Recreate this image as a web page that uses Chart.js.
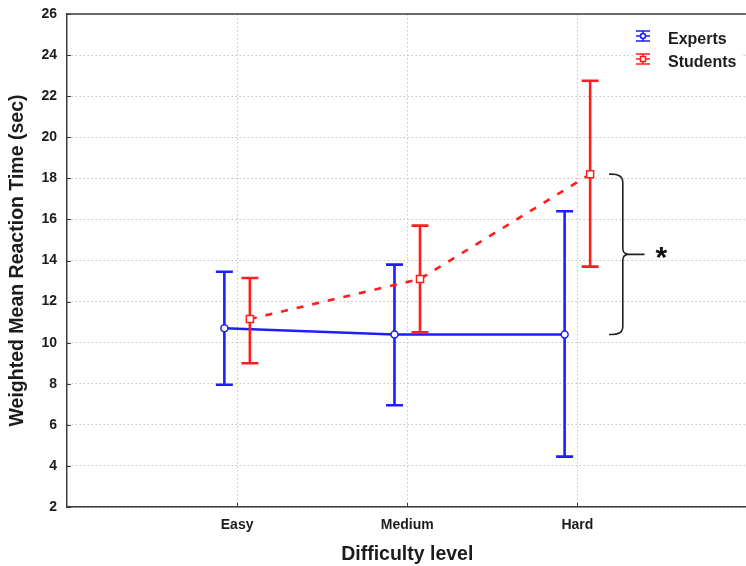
<!DOCTYPE html>
<html>
<head>
<title>Reaction time by difficulty</title>
<script src="https://cdn.jsdelivr.net/npm/chart.js"></script>
<style>
  html, body { margin: 0; padding: 0; background: #fff; overflow: hidden; }
  #wrap { width: 754px; height: 566px; }
</style>
</head>
<body>
<div id="wrap"><canvas id="rt"></canvas></div>
<script>
// weighted mean reaction time (sec) with interval ends
const levels = ['Easy', 'Medium', 'Hard'];
const expertsMean = [10.7, 10.4, 10.4];
const expertsLow  = [7.95, 6.95, 4.45];
const expertsHigh = [13.45, 13.8, 16.4];
const studentsMean = [11.15, 13.1, 18.2];
const studentsLow  = [9.0, 10.5, 13.7];
const studentsHigh = [13.15, 15.7, 22.75];
const yTicks = [2, 4, 6, 8, 10, 12, 14, 16, 18, 20, 22, 24, 26];

const FONT = "'Liberation Sans', Arial, sans-serif";
const BLUE = '#1e1eff';
const RED = '#ff1e1e';
const INK = '#1c1c1c';
const SHIFT = 0.075;   // horizontal offset of the two groups

function pts(mean, dx) {
  return mean.map((v, i) => ({ x: i + 1 + dx, y: v }));
}

const errorBars = {
  id: 'errorBars',
  beforeDatasetDraw(chart, args) {
    const ds = chart.data.datasets[args.index];
    const xs = chart.scales.x, ys = chart.scales.y;
    const ctx = chart.ctx;
    ctx.save();
    ctx.strokeStyle = ds.borderColor;
    ctx.lineWidth = 2.6;
    ds.low.forEach((lo, i) => {
      const px = xs.getPixelForValue(ds.data[i].x);
      const yl = ys.getPixelForValue(lo);
      const yh = ys.getPixelForValue(ds.high[i]);
      ctx.beginPath();
      ctx.moveTo(px, yh); ctx.lineTo(px, yl);
      ctx.moveTo(px - 8.5, yh); ctx.lineTo(px + 8.5, yh);
      ctx.moveTo(px - 8.5, yl); ctx.lineTo(px + 8.5, yl);
      ctx.stroke();
    });
    ctx.restore();
  }
};

const frame = {
  id: 'frame',
  beforeDatasetsDraw(chart) {
    const { ctx, chartArea: a, scales } = chart;
    ctx.save();
    ctx.strokeStyle = '#3c3c3c';
    ctx.lineWidth = 1.5;
    ctx.beginPath();
    ctx.moveTo(a.left, a.top); ctx.lineTo(a.right, a.top);
    ctx.stroke();
    ctx.lineWidth = 1;
    ctx.beginPath();
    scales.y.ticks.forEach(t => {
      const y = Math.round(scales.y.getPixelForValue(t.value)) + 0.5;
      ctx.moveTo(a.left, y); ctx.lineTo(a.left + 4, y);
    });
    scales.x.ticks.forEach(t => {
      const x = Math.round(scales.x.getPixelForValue(t.value)) + 0.5;
      ctx.moveTo(x, a.bottom); ctx.lineTo(x, a.bottom - 4);
    });
    ctx.stroke();
    ctx.restore();
  },
  afterDraw(chart) {
    const { ctx, scales } = chart;
    const xs = scales.x, ys = scales.y;
    ctx.save();

    // legend, top right
    const items = [['Experts', BLUE, 'circle'], ['Students', RED, 'rect']];
    items.forEach(([label, color, shape], k) => {
      const cy = 36 + k * 23;
      const cx = 643;
      ctx.fillStyle = '#fff';
      ctx.fillRect(cx - 10, cy - 9, 110, 18);
      ctx.strokeStyle = color;
      ctx.lineWidth = 1.6;
      ctx.beginPath();
      ctx.moveTo(cx - 7, cy - 5); ctx.lineTo(cx + 7, cy - 5);
      ctx.moveTo(cx - 7, cy + 5); ctx.lineTo(cx + 7, cy + 5);
      ctx.moveTo(cx, cy - 5); ctx.lineTo(cx, cy + 5);
      ctx.moveTo(cx - 7, cy); ctx.lineTo(cx + 7, cy);
      ctx.stroke();
      ctx.fillStyle = '#fff';
      ctx.beginPath();
      if (shape === 'circle') ctx.arc(cx, cy, 2.5, 0, Math.PI * 2);
      else ctx.rect(cx - 2.5, cy - 2.5, 5, 5);
      ctx.fill(); ctx.stroke();
      ctx.fillStyle = INK;
      ctx.font = "bold 16px " + FONT;
      ctx.textBaseline = 'middle';
      ctx.textAlign = 'left';
      ctx.fillText(label, 668, cy + 4);
    });

    // bracket joining the two Hard means
    const yTop = ys.getPixelForValue(studentsMean[2]);
    const yBot = ys.getPixelForValue(expertsMean[2]);
    const yMid = (yTop + yBot) / 2;
    const x0 = xs.getPixelForValue(3.186);
    const x1 = xs.getPixelForValue(3.267);
    const x2 = xs.getPixelForValue(3.395);
    ctx.strokeStyle = '#222';
    ctx.lineWidth = 1.6;
    ctx.beginPath();
    ctx.moveTo(x0, yTop);
    ctx.quadraticCurveTo(x1, yTop - 1, x1, yTop + 8);
    ctx.lineTo(x1, yMid - 6);
    ctx.quadraticCurveTo(x1, yMid, x1 + 6, yMid);
    ctx.quadraticCurveTo(x1, yMid, x1, yMid + 6);
    ctx.lineTo(x1, yBot - 8);
    ctx.quadraticCurveTo(x1, yBot + 1, x0, yBot);
    ctx.moveTo(x1 + 4, yMid); ctx.lineTo(x2, yMid);
    ctx.stroke();

    ctx.fillStyle = '#111';
    ctx.font = "bold 30px " + FONT;
    ctx.textAlign = 'center';
    ctx.textBaseline = 'alphabetic';
    ctx.fillText('*', xs.getPixelForValue(3.494), yMid + 13);
    ctx.restore();
  }
};

new Chart(document.getElementById('rt'), {
  type: 'line',
  data: {
    datasets: [
      {
        label: 'Experts',
        data: pts(expertsMean, -SHIFT),
        low: expertsLow, high: expertsHigh,
        borderColor: BLUE,
        borderWidth: 2.6,
        tension: 0,
        pointStyle: 'circle',
        pointRadius: 3.5,
        pointBorderWidth: 1.5,
        pointBackgroundColor: '#fff',
        pointBorderColor: BLUE,
        order: 2
      },
      {
        label: 'Students',
        data: pts(studentsMean, SHIFT),
        low: studentsLow, high: studentsHigh,
        borderColor: RED,
        borderWidth: 2.6,
        borderDash: [7, 9],
        tension: 0,
        pointStyle: 'rect',
        pointRadius: 5,
        pointBorderWidth: 1.5,
        pointBackgroundColor: '#fff',
        pointBorderColor: RED,
        order: 1
      }
    ]
  },
  options: {
    responsive: true,
    maintainAspectRatio: false,
    animation: false,
    layout: { padding: { top: 14, right: 0, left: 0, bottom: 0 } },
    plugins: { legend: { display: false }, tooltip: { enabled: false } },
    scales: {
      x: {
        type: 'linear',
        min: 0, max: 4,
        afterBuildTicks: s => { s.ticks = levels.map((_, i) => ({ value: i + 1 })); },
        afterFit: s => { s.height = 59; s.paddingLeft = 0; s.paddingRight = 0; },
        ticks: {
          callback: v => levels[v - 1] || '',
          font: { family: FONT, size: 14, weight: 'bold' },
          color: INK,
          padding: 10,
          maxRotation: 0
        },
        grid: { color: '#c2c2c2', drawTicks: false },
        border: { color: '#3c3c3c', width: 1.5, dash: [1.5, 2.5] },
        title: {
          display: true,
          text: 'Difficulty level',
          font: { family: FONT, size: 19.5, weight: 'bold', lineHeight: 1 },
          color: INK,
          padding: { top: 0, bottom: 2 }
        }
      },
      y: {
        min: 2, max: 26,
        afterBuildTicks: s => { s.ticks = yTicks.map(v => ({ value: v })); },
        afterFit: s => { s.width = 67; s.paddingTop = 0; s.paddingBottom = 0; },
        ticks: {
          font: { family: FONT, size: 14, weight: 'bold' },
          color: INK,
          padding: 10
        },
        grid: { color: '#c2c2c2', drawTicks: false },
        border: { color: '#3c3c3c', width: 1.5, dash: [1.5, 2.5] },
        title: {
          display: true,
          text: 'Weighted Mean Reaction Time (sec)',
          font: { family: FONT, size: 19.5, weight: 'bold', lineHeight: 1 },
          color: INK,
          padding: { top: 8, bottom: 0 }
        }
      }
    }
  },
  plugins: [errorBars, frame]
});
</script>
</body>
</html>
